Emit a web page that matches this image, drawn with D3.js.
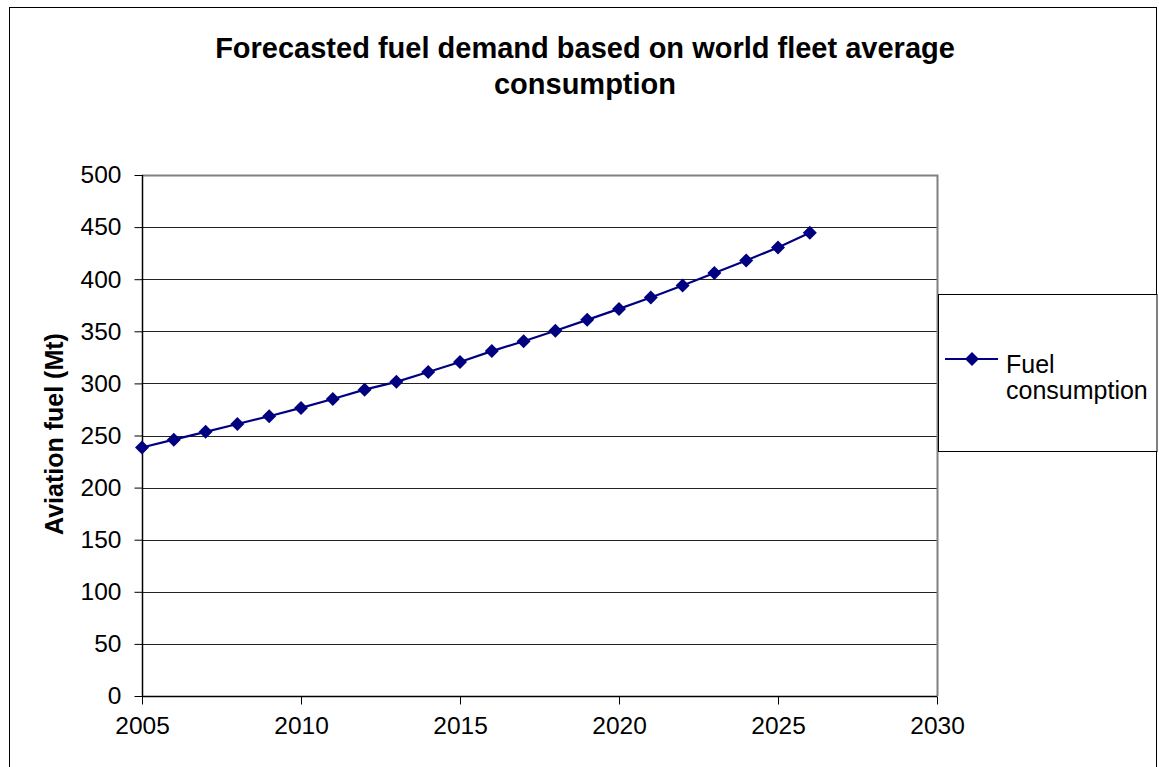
<!DOCTYPE html>
<html>
<head>
<meta charset="utf-8">
<script src="https://cdn.jsdelivr.net/npm/d3@7"></script>
<style>
  html, body { margin: 0; padding: 0; background: #fff; }
  svg { display: block; font-family: "Liberation Sans", Arial, sans-serif; }
</style>
</head>
<body>
<svg id="chart" width="1159" height="767"></svg>
<script>
// Forecast series: world aviation fuel demand (Mt), 2005–2026
const years = [2005, 2006, 2007, 2008, 2009, 2010, 2011, 2012, 2013, 2014, 2015,
               2016, 2017, 2018, 2019, 2020, 2021, 2022, 2023, 2024, 2025, 2026];
const fuel = [238.5, 246, 253.5, 261, 268.5, 276.5, 285, 294, 301.5, 311, 320.5,
              331, 340.5, 350.5, 361, 371.5, 382.5, 394, 406, 418, 430.5, 444.5];
const xTicks = [2005, 2010, 2015, 2020, 2025, 2030];
const yTicks = [0, 50, 100, 150, 200, 250, 300, 350, 400, 450, 500];
const titleLines = ["Forecasted fuel demand based on world fleet average", "consumption"];
const yLabel = "Aviation fuel (Mt)";
const seriesName = ["Fuel", "consumption"];

const svg = d3.select("#chart");
const plot = { left: 142, right: 937, top: 175, bottom: 696 };

const x = d3.scaleLinear().domain([2005, 2030]).range([plot.left, plot.right]);
const y = d3.scaleLinear().domain([0, 500]).range([plot.bottom, plot.top]);

// outer chart frame
svg.append("rect")
  .attr("x", 9.5).attr("y", 7.5).attr("width", 1147).attr("height", 770)
  .attr("fill", "#fff").attr("stroke", "#000").attr("stroke-width", 1);

// title
svg.append("text")
  .attr("text-anchor", "middle")
  .attr("font-weight", "bold").attr("font-size", 29)
  .selectAll("tspan").data(titleLines).join("tspan")
  .attr("x", 585).attr("y", (d, i) => 58 + i * 36)
  .text(d => d);

// horizontal gridlines
svg.append("g").selectAll("line").data(yTicks.filter(v => v > 0 && v < 500)).join("line")
  .attr("x1", plot.left).attr("x2", plot.right)
  .attr("y1", d => Math.round(y(d)) + 0.5).attr("y2", d => Math.round(y(d)) + 0.5)
  .attr("stroke", "#222").attr("stroke-width", 1);

// plot area top and right borders
svg.append("path")
  .attr("d", `M${plot.left},${plot.top + 0.5}H${plot.right + 0.5}V${plot.bottom}`)
  .attr("fill", "none").attr("stroke", "#808080").attr("stroke-width", 2);

// axes
const yAxis = d3.axisLeft(y).tickValues(yTicks).tickSize(8).tickPadding(13).tickFormat(d3.format("d"));
const gy = svg.append("g").attr("transform", `translate(${plot.left + 0.5},0)`).call(yAxis);
const xAxis = d3.axisBottom(x).tickValues(xTicks).tickSize(8).tickPadding(12).tickFormat(d3.format("d"));
const gx = svg.append("g").attr("transform", `translate(0,${plot.bottom + 0.5})`).call(xAxis);
[gx, gy].forEach(g => {
  g.select(".domain").attr("stroke", "#000").attr("stroke-width", 1.5);
  g.selectAll(".tick line").attr("stroke", "#000");
  g.selectAll(".tick text")
    .attr("font-size", 24.5).attr("fill", "#000")
    .attr("font-family", "'Liberation Sans', Arial, sans-serif");
});
gx.select(".domain").attr("d", `M${plot.left},0H${plot.right}`);
gy.select(".domain").attr("d", `M0,${plot.top}V${plot.bottom}`);

// y-axis title
svg.append("text")
  .attr("transform", `translate(63,${434}) rotate(-90)`)
  .attr("text-anchor", "middle")
  .attr("font-weight", "bold").attr("font-size", 25)
  .text(yLabel);

// series line and diamond markers
const color = "#000080";
const data = years.map((yr, i) => ({ yr, v: fuel[i] }));
svg.append("path")
  .datum(data)
  .attr("d", d3.line().x(d => x(d.yr)).y(d => y(d.v)))
  .attr("fill", "none").attr("stroke", color).attr("stroke-width", 2.2);

const diamond = d3.symbol().type(d3.symbolDiamond2).size(125);
svg.append("g").selectAll("path").data(data).join("path")
  .attr("transform", d => `translate(${x(d.yr)},${y(d.v)})`)
  .attr("d", diamond)
  .attr("fill", color);

// legend
const lg = svg.append("g");
lg.append("rect")
  .attr("x", 938.5).attr("y", 294.5).attr("width", 218.5).attr("height", 157)
  .attr("fill", "#fff").attr("stroke", "#000").attr("stroke-width", 1);
lg.append("line")
  .attr("x1", 945).attr("x2", 998).attr("y1", 359).attr("y2", 359)
  .attr("stroke", color).attr("stroke-width", 2.2);
lg.append("path")
  .attr("transform", "translate(972,359)")
  .attr("d", diamond)
  .attr("fill", color);
lg.append("text")
  .attr("font-size", 25)
  .selectAll("tspan").data(seriesName).join("tspan")
  .attr("x", 1006).attr("y", (d, i) => 373 + i * 26)
  .text(d => d);
</script>
</body>
</html>
